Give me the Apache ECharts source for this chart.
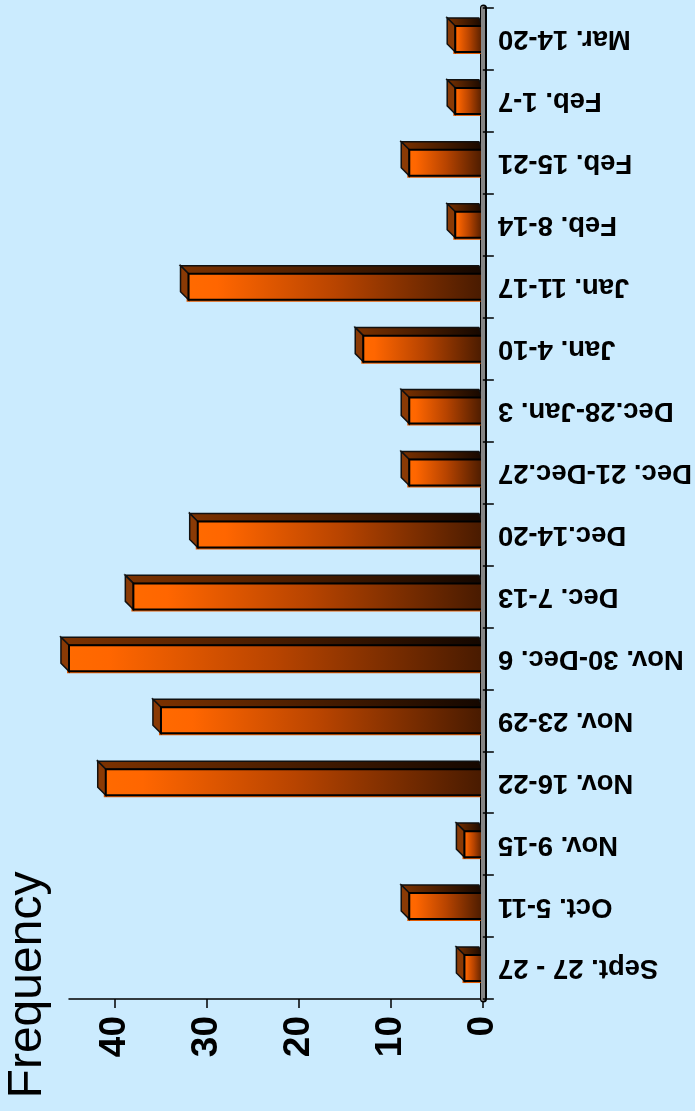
<!DOCTYPE html>
<html>
<head>
<meta charset="utf-8">
<script src="https://cdn.jsdelivr.net/npm/echarts@6/dist/echarts.min.js"></script>
<style>
html,body{margin:0;padding:0;background:#cbebfe;}
#chart{width:695px;height:1111px;}
</style>
</head>
<body>
<div id="chart"></div>
<script>
// Categories listed bottom to top
const categories = [
  "Sept. 27 - 27", "Oct. 5-11", "Nov. 9-15", "Nov. 16-22", "Nov. 23-29",
  "Nov. 30-Dec. 6", "Dec. 7-13", "Dec.14-20", "Dec. 21-Dec.27", "Dec.28-Jan. 3",
  "Jan. 4-10", "Jan. 11-17", "Feb. 8-14", "Feb. 15-21", "Feb. 1-7", "Mar. 14-20"
];
const frequency = [2, 8, 2, 41, 35, 45, 38, 31, 8, 8, 13, 32, 3, 8, 3, 3];
const valueTicks = [0, 10, 20, 30, 40];
const axisName = "Frequency";

const chart = echarts.init(document.getElementById('chart'));
const FONT = '"Liberation Sans", Arial, sans-serif';

function renderBar(params, api) {
  const c = api.value(0);
  const v = api.value(1);
  const base = api.coord([0, c]);
  const end = api.coord([v, c]);
  const band = api.size([0, 1])[1];
  const h = band * 0.42;
  const d = band * 0.13;
  const x0 = base[0];
  const x1 = end[0];
  const yT = base[1] - h / 2;
  const yB = yT + h;
  return {
    type: 'group',
    children: [
      { // shadow fringe
        type: 'rect',
        shape: { x: x1 - 2, y: yT + 2, width: x0 - x1, height: h },
        style: { fill: '#e35a00' }
      },
      { // top face
        type: 'polygon',
        shape: { points: [[x1, yT], [x1 - d, yT - d], [x0 - d * 0.5, yT - d], [x0, yT]] },
        style: {
          fill: new echarts.graphic.LinearGradient(0, 0, 1, 0, [
            { offset: 0, color: '#7d3200' }, { offset: 1, color: '#140700' }
          ]),
          stroke: '#111', lineWidth: 1.5
        }
      },
      { // left face
        type: 'polygon',
        shape: { points: [[x1, yT], [x1 - d, yT - d], [x1 - d, yB - d], [x1, yB]] },
        style: { fill: '#8a3a05', stroke: '#111', lineWidth: 1.5 }
      },
      { // front face
        type: 'rect',
        shape: { x: x1, y: yT, width: x0 - x1, height: h },
        style: {
          fill: new echarts.graphic.LinearGradient(0, 0, 1, 0, [
            { offset: 0, color: '#ff6a00' },
            { offset: 0.1, color: '#ff6600' },
            { offset: 0.5, color: '#b84400' },
            { offset: 1, color: '#471a00' }
          ]),
          stroke: '#000', lineWidth: 2
        }
      }
    ]
  };
}

chart.setOption({
  backgroundColor: '#cbebfe',
  animation: false,
  grid: { left: 69, right: 211, top: 8, bottom: 112, containLabel: false },
  xAxis: {
    type: 'value',
    inverse: true,
    min: 0,
    max: 45,
    axisLine: { show: true, lineStyle: { color: '#000', width: 1.5 } },
    axisTick: { show: true, customValues: valueTicks, length: 9, lineStyle: { color: '#000', width: 1.5 } },
    axisLabel: {
      customValues: valueTicks,
      rotate: 90,
      margin: 17,
      fontSize: 37,
      fontWeight: 'bold',
      fontFamily: FONT,
      color: '#000'
    },
    splitLine: { show: false }
  },
  yAxis: [
    {
      type: 'category',
      data: categories,
      position: 'right',
      z: 3,
      axisLine: { show: true, lineStyle: { color: '#858585', width: 4 } },
      axisTick: { show: true, length: 11, lineStyle: { color: '#000', width: 1.5 } },
      axisLabel: {
        rotate: 180,
        align: 'right',
        verticalAlign: 'middle',
        margin: 15,
        fontSize: 27.5,
        fontWeight: 'bold',
        fontFamily: FONT,
        color: '#000',
        interval: 0
      },
      splitLine: { show: false }
    },
    {
      type: 'category',
      data: categories,
      position: 'right',
      z: 1,
      axisLine: { show: true, lineStyle: { color: '#000', width: 7 } },
      axisTick: { show: false },
      axisLabel: { show: false },
      splitLine: { show: false }
    }
  ],
  graphic: [
    {
      type: 'text',
      x: 28,
      y: 985,
      rotation: Math.PI / 2,
      style: {
        text: axisName,
        font: '48px ' + FONT,
        fill: '#000',
        align: 'center',
        verticalAlign: 'middle'
      }
    }
  ],
  series: [
    {
      type: 'custom',
      yAxisIndex: 0,
      renderItem: renderBar,
      encode: { x: 1, y: 0 },
      data: frequency.map((v, i) => [i, v]),
      z: 2
    }
  ]
});
</script>
</body>
</html>
